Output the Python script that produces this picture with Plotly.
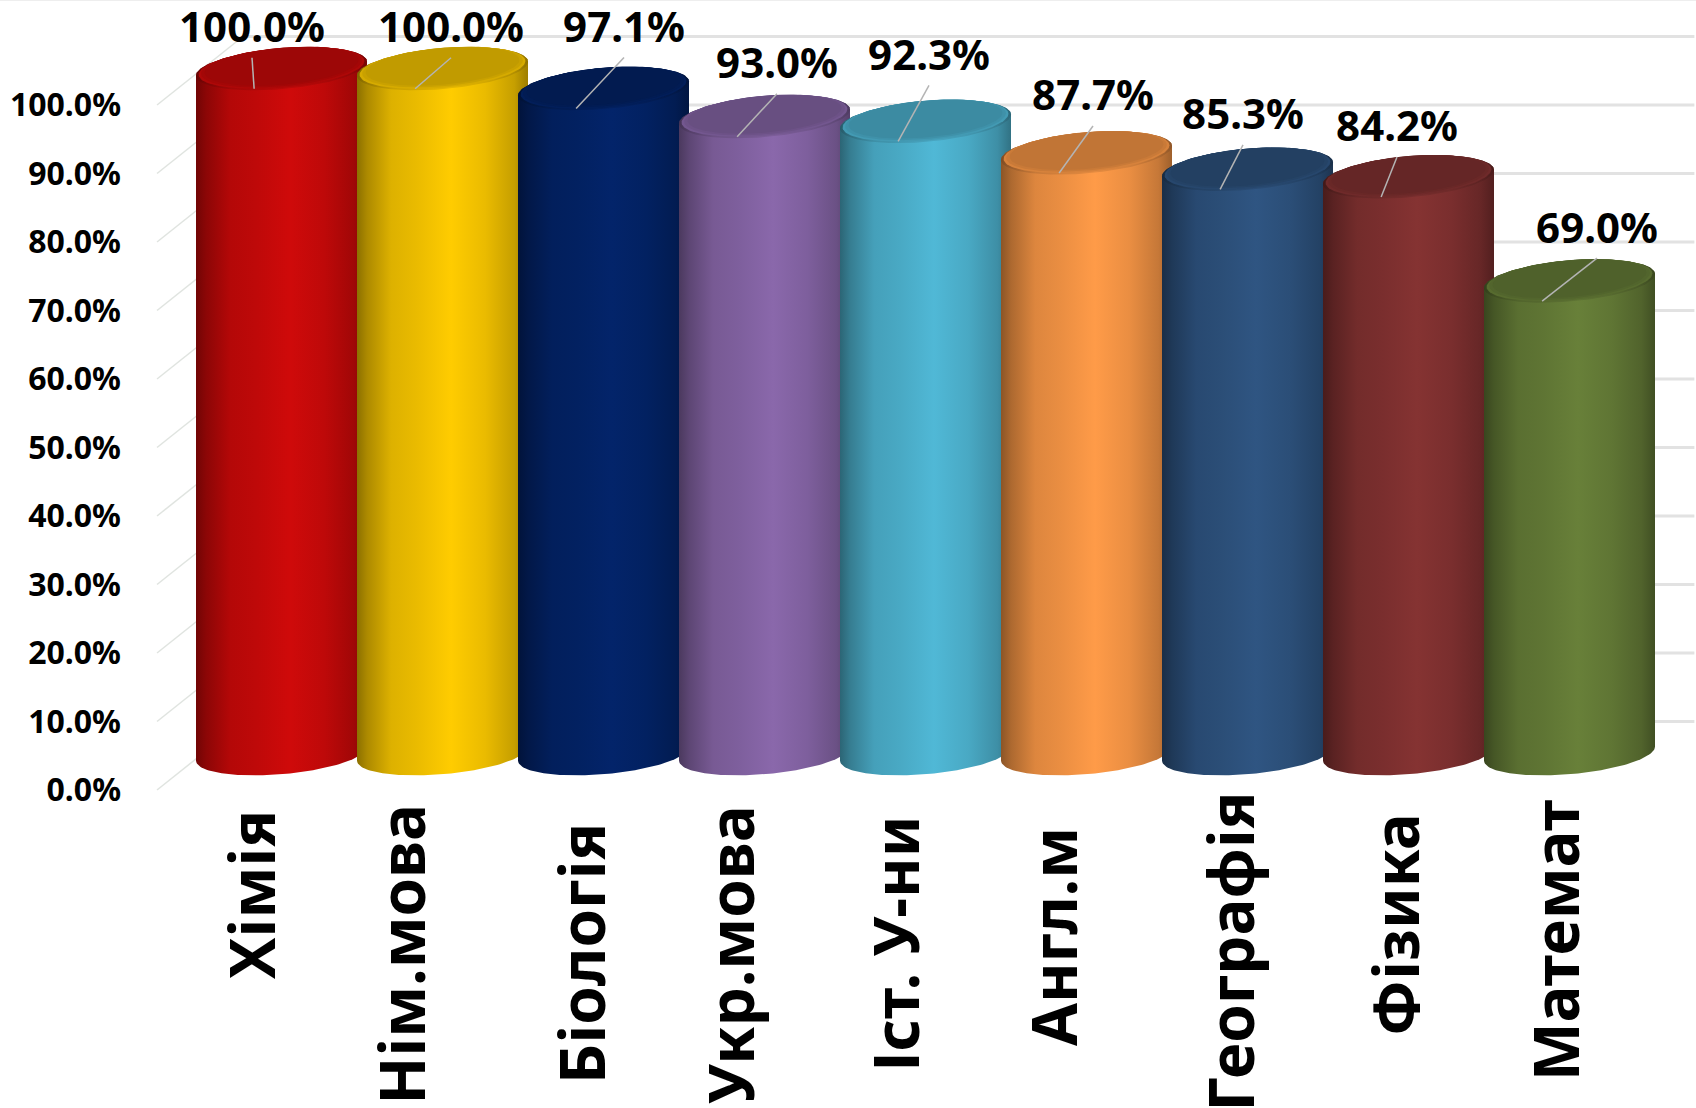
import numpy as np
import plotly.graph_objects as go

# ---- data ----
categories = ["Хімія", "Нім.мова", "Біологія", "Укр.мова", "Іст. У-ни", "Англ.м", "Географія", "Фізика", "Математ"]
values = [100.0, 100.0, 97.1, 93.0, 92.3, 87.7, 85.3, 84.2, 69.0]
y_ticks = [0, 10, 20, 30, 40, 50, 60, 70, 80, 90, 100]

# ---- styling ----
colors = ["#cf0a0a", "#ffcc00", "#03246a", "#8a68ab", "#50b8d6", "#ff9b48", "#2f5582", "#853332", "#688039"]
label_dx_px = [-29.5, 8.5, 20.5, 12.5, 3.5, 6.5, -4.5, -11.5, 27.5]
label_dy_px = [40, 40, 60, 52, 65, 56, 53.5, 49, 52]
cat_dx_px = [-31, -42, -23, -35, -31, -34, -18, -14, -15]
cat_top_px = [809, 804, 822, 804, 815, 826, 791, 812, 799]

W, H = 1696, 1108
PX_PER_PCT = 6.85
ZERO_PX = 790
PX_PER_CAT = 161
FIRST_PX = 281.5
LEFT, BOTTOM_PX = 130, 800
BASE = 5.3            # cylinder base centre above front zero (3-D depth)
DEPTH = 10.0          # back wall offset in y units
HALF_W = 85.5 / PX_PER_CAT
B = 20.5 / PX_PER_PCT
S = 7.0 / PX_PER_PCT
FONT = "Noto Sans"

x_range = [(LEFT - FIRST_PX) / PX_PER_CAT, (W - FIRST_PX) / PX_PER_CAT]
y_range = [(ZERO_PX - BOTTOM_PX) / PX_PER_PCT, ZERO_PX / PX_PER_PCT]


def shade(hex_color, f):
    r, g, b = (int(hex_color[i:i + 2], 16) for i in (1, 3, 5))
    return f"rgb({int(r * f)},{int(g * f)},{int(b * f)})"


def gradient(color, scale=1.0):
    stops = [(0.0, 0.55), (0.06, 0.68), (0.2, 0.87), (0.35, 0.92), (0.55, 1.0), (0.75, 0.92), (0.92, 0.78), (1.0, 0.62)]
    return dict(type="horizontal", colorscale=[[p, shade(color, f * scale)] for p, f in stops])


def ell(i, c, t, k=1.0):
    return i + k * HALF_W * np.cos(t), c + k * B * np.sin(t) + k * S * np.cos(t)


fig = go.Figure()

# walls: back grid lines and side wall lines
back_x = (243 - FIRST_PX) / PX_PER_CAT
front_x = (157 - FIRST_PX) / PX_PER_CAT
for v in y_ticks:
    fig.add_trace(go.Scatter(x=[back_x, x_range[1] - 0.01], y=[v + DEPTH, v + DEPTH], mode="lines",
                             line=dict(color="#e2e2e2", width=3), hoverinfo="skip", showlegend=False))
    fig.add_trace(go.Scatter(x=[front_x, back_x], y=[v, v + DEPTH], mode="lines",
                             line=dict(color="#e0e4e0", width=1.5), hoverinfo="skip", showlegend=False))

# cylinders
t_low = np.linspace(np.pi, 2 * np.pi, 80)
t_up = np.linspace(0, np.pi, 80)
t_all = np.linspace(0, 2 * np.pi, 160)
for i, (name, v, col) in enumerate(zip(categories, values, colors)):
    top = v + BASE
    xb, yb = ell(i, BASE, t_low)
    xt, yt = ell(i, top, t_up)
    fig.add_trace(go.Scatter(x=np.r_[xb, xt], y=np.r_[yb, yt], mode="lines", fill="toself",
                             line=dict(width=0), fillgradient=gradient(col), name=name,
                             hoverinfo="skip", showlegend=False))
    xc, yc = ell(i, top, t_all)
    fig.add_trace(go.Scatter(x=xc, y=yc, mode="lines", fill="toself", line=dict(width=0),
                             fillgradient=gradient(col, 0.9), hoverinfo="skip", showlegend=False))
    # cap softened in steps from the rim to the dark centre
    for k, dy, f in [(0.97, 0.12, 0.84), (0.94, 0.24, 0.79), (0.9, 0.36, 0.76)]:
        xc, yc = ell(i, top + dy, t_all, k)
        fig.add_trace(go.Scatter(x=xc, y=yc, mode="lines", fill="toself", line=dict(width=0),
                                 fillcolor=shade(col, f), hoverinfo="skip", showlegend=False))

# leader lines and data labels
lab_x, lab_y = [], []
for i, v in enumerate(values):
    lx = i + label_dx_px[i] / PX_PER_CAT
    ly = v + BASE + label_dy_px[i] / PX_PER_PCT
    lab_x.append(lx)
    lab_y.append(ly - 3 / PX_PER_PCT)
    fig.add_trace(go.Scatter(x=[i - 0.17, lx], y=[v + BASE - 20 / PX_PER_PCT, ly - 29 / PX_PER_PCT], mode="lines",
                             line=dict(color="#b4b4b4", width=1.5), hoverinfo="skip", showlegend=False))
fig.add_trace(go.Scatter(x=lab_x, y=lab_y, mode="text", text=[f"{v:.1f}%" for v in values],
                         textposition="middle center", cliponaxis=False,
                         textfont=dict(family=FONT, size=42, color="#000000", weight="bold"),
                         hoverinfo="skip", showlegend=False))

# category labels
for i, name in enumerate(categories):
    fig.add_annotation(x=i, y=0, xref="x", yref="y", text=f"<b>{name}</b>", textangle=-90,
                       xanchor="center", yanchor="top", xshift=cat_dx_px[i],
                       yshift=-(cat_top_px[i] - ZERO_PX), showarrow=False,
                       borderpad=0, font=dict(family=FONT, size=62, color="#000000"))

fig.add_shape(type="rect", xref="paper", yref="paper", x0=-0.1, x1=1, y0=1.0, y1=0.998 + 0.002,
              line=dict(color="#eeeeee", width=2))

fig.update_layout(
    width=W, height=H, autosize=False,
    margin=dict(l=LEFT, r=0, t=0, b=H - BOTTOM_PX, pad=0),
    paper_bgcolor="#ffffff", plot_bgcolor="#ffffff", showlegend=False,
    xaxis=dict(range=x_range, showgrid=False, zeroline=False, showticklabels=False, ticks="", fixedrange=True),
    yaxis=dict(range=y_range, showgrid=False, zeroline=False, tickmode="array", tickvals=y_ticks,
               ticktext=[f"{v:.1f}%" for v in y_ticks], ticks="", ticklen=0, ticklabelstandoff=8,
               tickfont=dict(family=FONT, size=32, color="#000000", weight="bold"), fixedrange=True),
)
fig.write_html("out.html", config=dict(displayModeBar=False),
               post_script="document.body.style.margin='0';document.body.style.overflow='hidden';")
